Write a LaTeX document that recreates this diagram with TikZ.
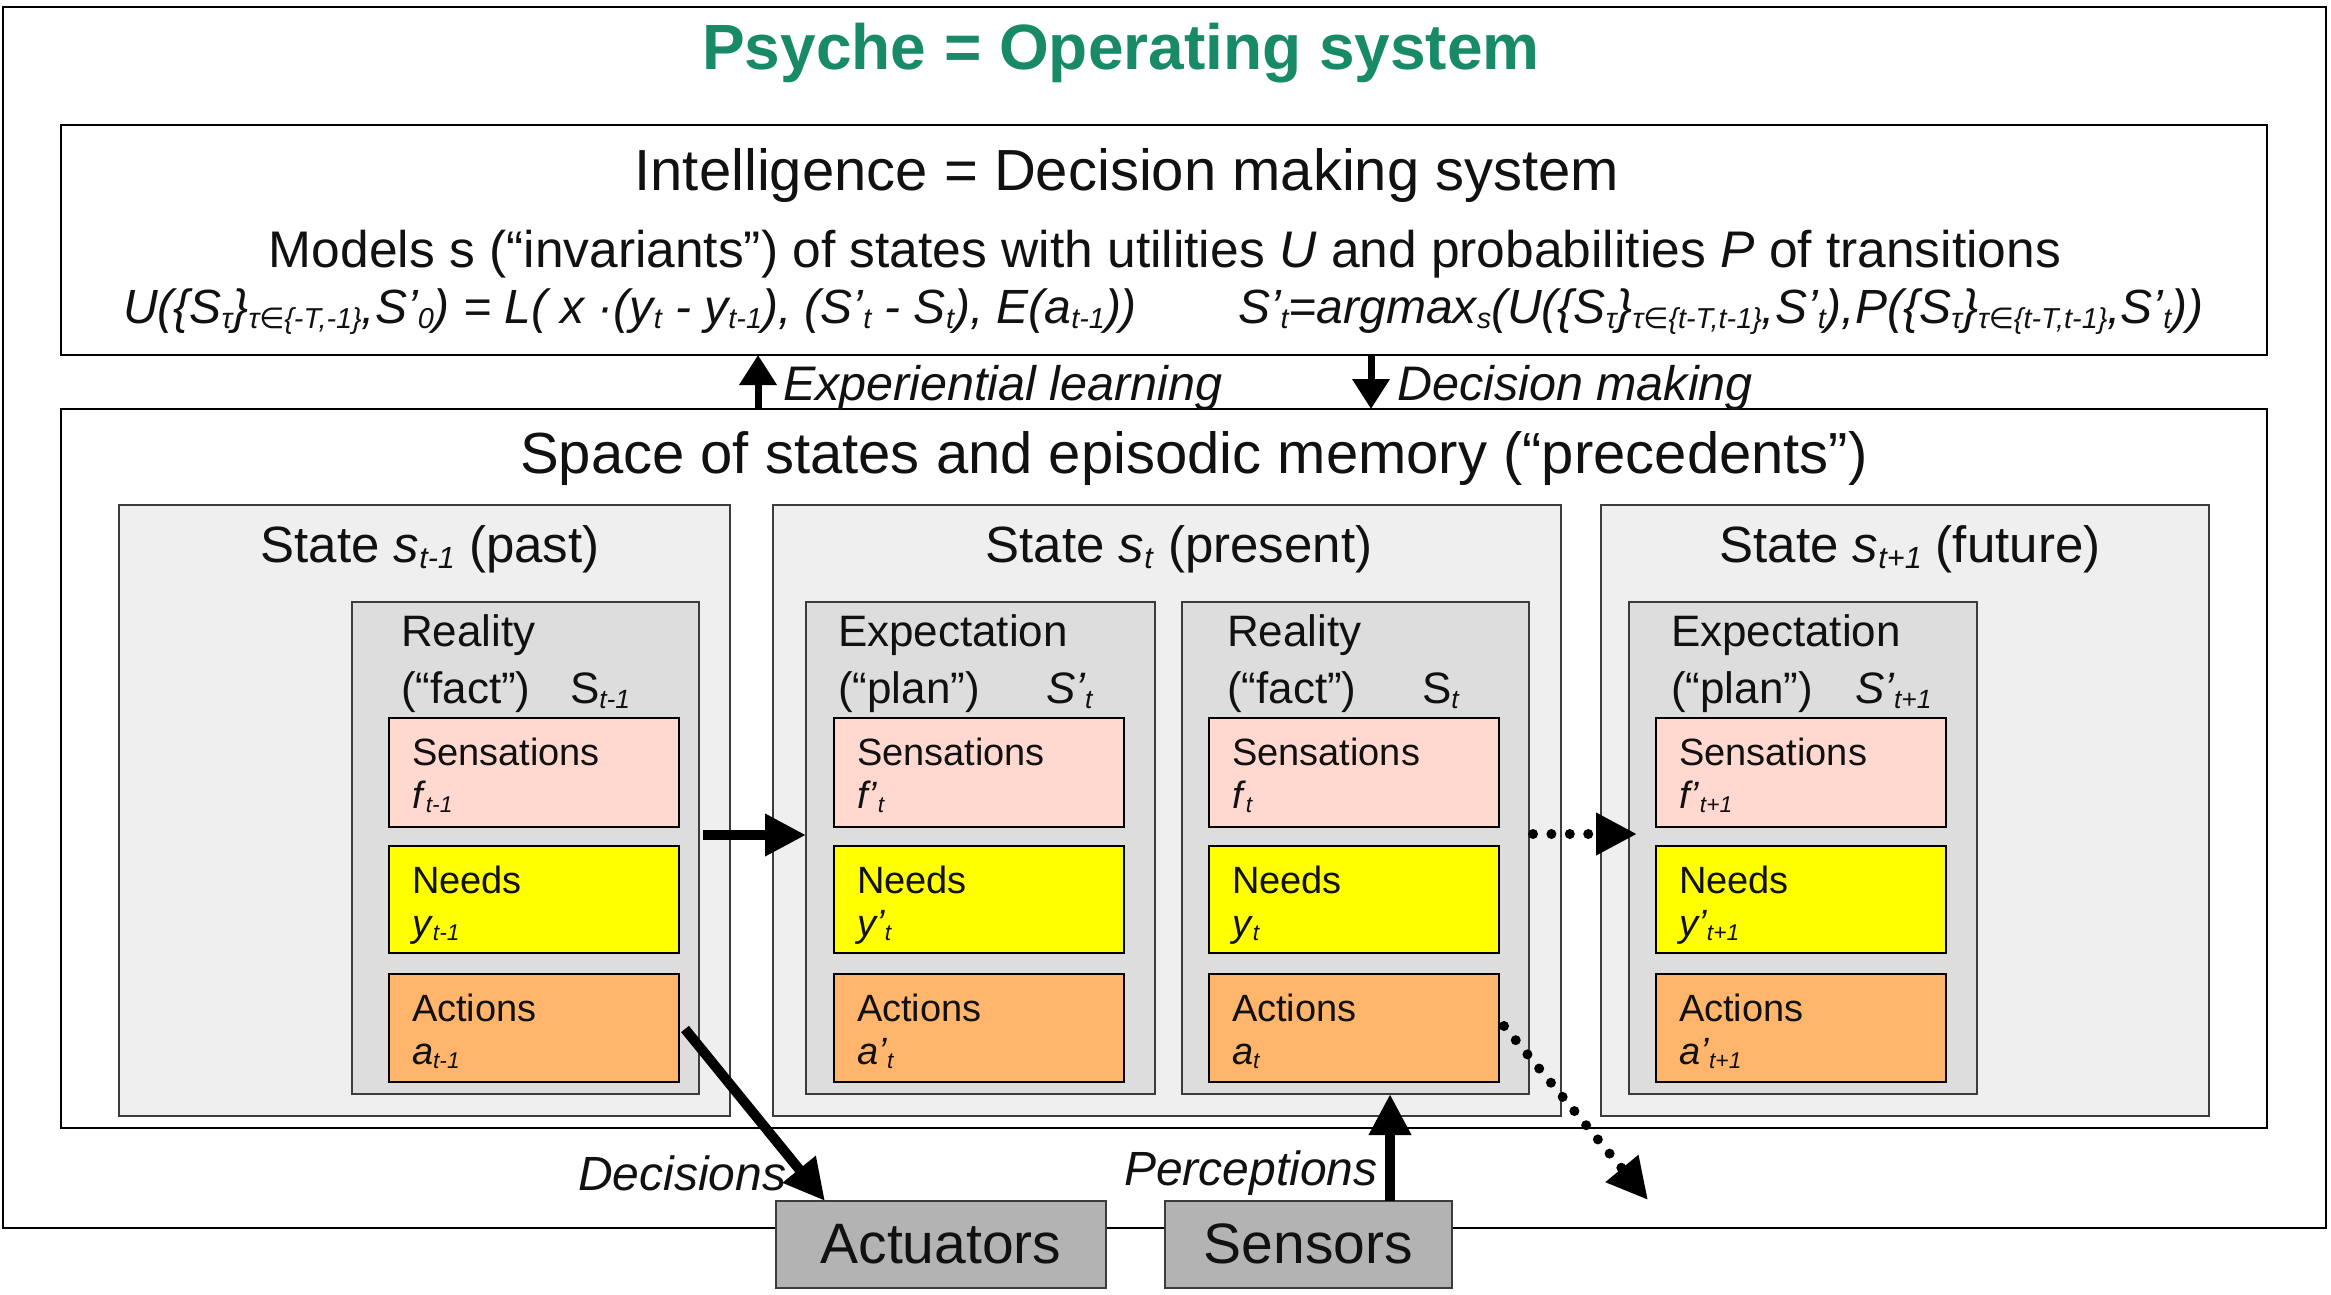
\documentclass[tikz,border=0pt]{standalone}
\usepackage{fontspec}
\setmainfont{Liberation Sans}
\newfontfamily\djv{DejaVu Sans}
\usetikzlibrary{arrows.meta}
\definecolor{psygreen}{RGB}{24,138,104}
\definecolor{ink}{RGB}{17,17,17}
\definecolor{stategray}{RGB}{239,239,239}
\definecolor{subgray}{RGB}{221,221,221}
\definecolor{edgegray}{RGB}{60,60,60}
\definecolor{sensc}{RGB}{255,216,208}
\definecolor{needc}{RGB}{255,255,0}
\definecolor{actc}{RGB}{255,182,108}
\definecolor{devc}{RGB}{179,179,179}
\newcommand\fsz[1]{\fontsize{#1}{#1}\selectfont}
\makeatletter
\newcommand\lo[1]{\begingroup\@tempdima=\f@size pt\@tempdima=0.6\@tempdima\edef\losz{\strip@pt\@tempdima}\raisebox{-0.12em}{\fontsize{\losz}{\losz}\selectfont #1}\endgroup}
\makeatother
\newcommand\inn{{\djv ∈}}
\tikzset{
  rbox/.style={draw, anchor=north west, inner sep=0pt, outer sep=0pt, line width=1.6pt},
  framebox/.style={rbox, draw=black, fill=white},
  statebox/.style={rbox, fill=stategray, draw=edgegray},
  subbox/.style={rbox, fill=subgray, draw=edgegray, minimum height=492pt},
  colbox/.style={rbox, draw=black, minimum width=290pt},
  devbox/.style={rbox, fill=devc, draw=edgegray, line width=2pt, font=\fsz{57}, text=ink},
  txt/.style={inner sep=0pt, outer sep=0pt, anchor=base west, text=ink},
  ctxt/.style={txt, anchor=base},
  bigarrow/.style={draw=black, line width=10pt, -{Triangle[length=41pt,width=40pt]}},
  dotarrow/.style={bigarrow, line cap=round, dash pattern=on 0pt off 18.4pt},
  smallarrow/.style={draw=black, line width=7pt, -{Triangle[length=30pt,width=36pt]}}
}
% colored box: name, x, y, height, fill, label, variable
\newcommand\cbox[7]{%
  \node[colbox, fill=#5, minimum height=#4pt] (#1) at (#2,#3) {};
  \node[txt, font=\fsz{38}] (#1l) at ([xshift=23pt,yshift=-47pt]#1.north west) {#6};
  \node[txt, font=\fsz{38}] (#1v) at ([xshift=23pt,yshift=-90pt]#1.north west) {#7};
}
\newcommand\threebox[5]{% prefix, x, three variables
  \cbox{#1S}{#2}{718}{109}{sensc}{Sensations}{#3}
  \cbox{#1N}{#2}{846}{107}{needc}{Needs}{#4}
  \cbox{#1A}{#2}{974}{108}{actc}{Actions}{#5}
}
\begin{document}
\begin{tikzpicture}[x=1pt,y=-1pt]
\useasboundingbox[fill=white] (0,0) rectangle (2331,1295);
% frames
\node[framebox, minimum width=2323pt, minimum height=1221pt] (outer) at (3,7) {};
\node[ctxt, font=\fsz{64}\bfseries, text=psygreen] (title) at (1121,70) {Psyche = Operating system};
\node[framebox, minimum width=2206pt, minimum height=230pt] (intel) at (61,125) {};
\node[framebox, minimum width=2206pt, minimum height=719pt] (space) at (61,409) {};
% intelligence texts
\node[ctxt, font=\fsz{58}] (intelT) at (1127,190) {Intelligence = Decision making system};
\node[ctxt, font=\fsz{51.5}] (models) at (1165,267) {Models s (“invariants”) of states with utilities \textit{U} and probabilities \textit{P} of transitions};
\node[txt, font=\fsz{48}\itshape] (formL) at (123,323) {U(\{S\lo{τ}\}\lo{τ\inn\{-T,-1\}},S’\lo{0}) = L( x ·(y\lo{t} - y\lo{t-1}), (S’\lo{t} - S\lo{t}), E(a\lo{t-1}))};
\node[txt, font=\fsz{48}\itshape] (formR) at (1238,323) {S’\lo{t}=argmax\lo{s}(U(\{S\lo{τ}\}\lo{τ\inn\{t-T,t-1\}},S’\lo{t}),P(\{S\lo{τ}\}\lo{τ\inn\{t-T,t-1\}},S’\lo{t}))};
% learning / decision arrows
\draw[smallarrow] ([xshift=697pt]space.north west) -- ([xshift=697pt]intel.south west);
\draw[smallarrow] ([xshift=1310pt]intel.south west) -- ([xshift=1310pt]space.north west);
\node[txt, font=\fsz{48.5}\itshape] (expL) at (783,400) {Experiential learning};
\node[txt, font=\fsz{48.5}\itshape] (decM) at (1397,400) {Decision making};
% space
\node[ctxt, font=\fsz{58}] (spaceT) at (1194,473) {Space of states and episodic memory (“precedents”)};
\node[statebox, minimum width=611pt, minimum height=611pt] (past) at (119,505) {};
\node[statebox, minimum width=788pt, minimum height=611pt] (pres) at (773,505) {};
\node[statebox, minimum width=608pt, minimum height=611pt] (fut) at (1601,505) {};
\node[ctxt, font=\fsz{51}] (pastT) at (430,562) {State \textit{s}\lo{\textit{t-1}} (past)};
\node[ctxt, font=\fsz{51}] (presT) at (1179,562) {State \textit{s}\lo{\textit{t}} (present)};
\node[ctxt, font=\fsz{51}] (futT) at (1910,562) {State \textit{s}\lo{\textit{t+1}} (future)};
% sub boxes
\node[subbox, minimum width=347pt] (pastR) at (352,602) {};
\node[subbox, minimum width=349pt] (presE) at (806,602) {};
\node[subbox, minimum width=347pt] (presR) at (1182,602) {};
\node[subbox, minimum width=348pt] (futE) at (1629,602) {};
\node[txt, font=\fsz{44}] (pastR1) at (401,646) {Reality};
\node[txt, font=\fsz{44}] (pastR2) at (401,703) {(“fact”)};
\node[txt, font=\fsz{44}] (pastR3) at (570,703) {S\lo{\textit{t-1}}};
\node[txt, font=\fsz{44}] (presE1) at (838,646) {Expectation};
\node[txt, font=\fsz{44}] (presE2) at (838,703) {(“plan”)};
\node[txt, font=\fsz{44}\itshape] (presE3) at (1046,703) {S’\lo{t}};
\node[txt, font=\fsz{44}] (presR1) at (1227,646) {Reality};
\node[txt, font=\fsz{44}] (presR2) at (1227,703) {(“fact”)};
\node[txt, font=\fsz{44}] (presR3) at (1422,703) {S\lo{\textit{t}}};
\node[txt, font=\fsz{44}] (futE1) at (1671,646) {Expectation};
\node[txt, font=\fsz{44}] (futE2) at (1671,703) {(“plan”)};
\node[txt, font=\fsz{44}\itshape] (futE3) at (1855,703) {S’\lo{t+1}};
% colored boxes
\threebox{pa}{389}{\textit{f}\lo{\textit{t-1}}}{\textit{y}\lo{\textit{t-1}}}{\textit{a}\lo{\textit{t-1}}}
\threebox{pe}{834}{\textit{f’}\lo{\textit{t}}}{\textit{y’}\lo{\textit{t}}}{\textit{a’}\lo{\textit{t}}}
\threebox{pr}{1209}{\textit{f}\lo{\textit{t}}}{\textit{y}\lo{\textit{t}}}{\textit{a}\lo{\textit{t}}}
\threebox{fe}{1656}{\textit{f’}\lo{\textit{t+1}}}{\textit{y’}\lo{\textit{t+1}}}{\textit{a’}\lo{\textit{t+1}}}
% devices
\node[devbox, minimum width=330pt, minimum height=87pt] (act) at (776,1201) {};
\node[ctxt, font=\fsz{57}] (actT) at ([yshift=-19pt]act.center) {Actuators};
\node[devbox, minimum width=287pt, minimum height=87pt] (sens) at (1165,1201) {};
\node[ctxt, font=\fsz{57}] (sensT) at ([yshift=-19pt]sens.center) {Sensors};
\coordinate (dotend) at (1648,1200);
% connectors
\draw[bigarrow] ([xshift=4pt,yshift=13pt]pastR.east) -- ([yshift=13pt]presE.west);
\draw[dotarrow] ([xshift=4pt,yshift=14pt]presR.east) -- ([xshift=8pt,yshift=14pt]futE.west);
\draw[bigarrow] ([xshift=6pt,yshift=-1pt]paA.east) -- ([xshift=49pt]act.north west);
\draw[dotarrow] ([xshift=5pt,yshift=2pt]prA.east) -- (dotend);
\draw[bigarrow] ([xshift=-62pt]sens.north east) -- ([xshift=-62pt]sens.north east |- presR.south);
\node[txt, font=\fsz{48}\itshape] (decL) at (578,1190) {Decisions};
\node[txt, font=\fsz{48}\itshape] (perL) at (1124,1185) {Perceptions};
\end{tikzpicture}
\end{document}
